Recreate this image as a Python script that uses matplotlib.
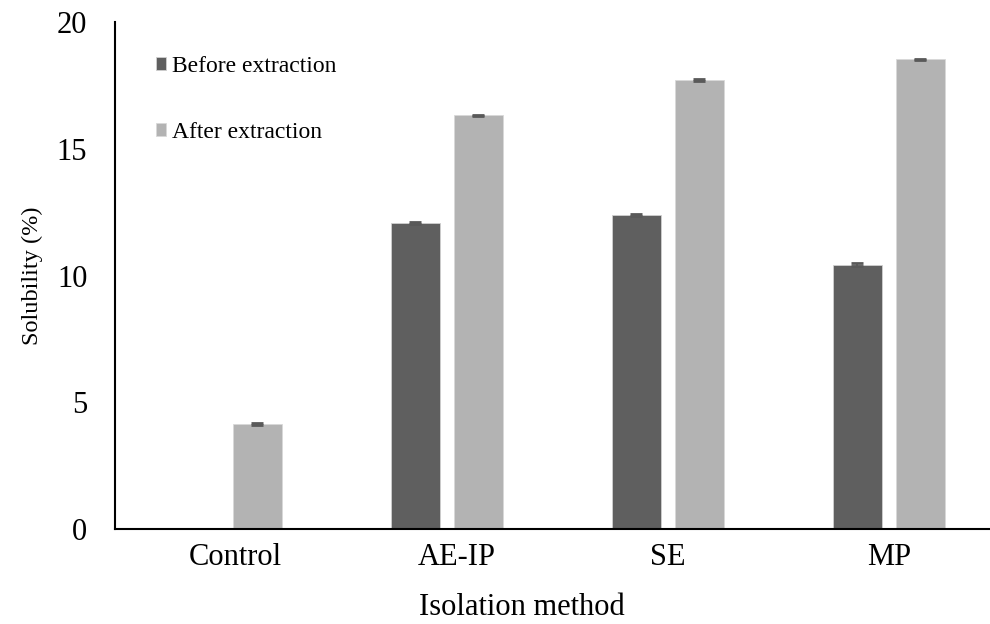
import numpy as np
import matplotlib.pyplot as plt
from matplotlib.transforms import ScaledTranslation

plt.rcParams["font.family"] = "serif"
plt.rcParams["font.serif"] = ["Liberation Serif", "Times New Roman", "DejaVu Serif"]

methods = ["Control", "AE-IP", "SE", "MP"]
before = [np.nan, 12.07, 12.37, 10.43]
after = [4.14, 16.32, 17.71, 18.53]
before_err = [0.0, 0.04, 0.04, 0.06]
after_err = [0.04, 0.03, 0.03, 0.03]

fig = plt.figure(figsize=(9.9, 6.24), dpi=100)
ax = fig.add_axes([0.1162, 0.1522, 0.8934, 0.8125])

x = np.arange(len(methods))
w = 0.222
off = 0.1425

ax.bar(x - off, before, width=w, color="#5f5f5f", edgecolor="#d0d0d0",
       linewidth=0.6, label="Before extraction")
ax.bar(x + off, after, width=w, color="#b3b3b3", edgecolor="#d9d9d9",
       linewidth=0.6, label="After extraction")

ax.errorbar(x - off, before, yerr=before_err, fmt="none", ecolor="#595959",
            elinewidth=1.2, capsize=4.5, capthick=2)
ax.errorbar(x + off, after, yerr=after_err, fmt="none", ecolor="#595959",
            elinewidth=1.2, capsize=4.5, capthick=2)

ax.set_xlim(-0.5, 3.5)
ax.set_ylim(0, 20)
ax.set_yticks([0, 5, 10, 15, 20])
ax.set_xticks(x)
ax.set_xticklabels(methods)
ax.tick_params(axis="both", length=0, labelsize=22)
ax.tick_params(axis="y", pad=20)
ax.tick_params(axis="x", pad=10)

# first two category labels sit a bit right of their bars
for lab, dx in zip(ax.get_xticklabels(), [10, 10, 0, 0]):
    lab.set_transform(lab.get_transform() + ScaledTranslation(dx / 100, 0, fig.dpi_scale_trans))

for s in ["top", "right"]:
    ax.spines[s].set_visible(False)
for s in ["left", "bottom"]:
    ax.spines[s].set_linewidth(1.5)

ax.set_xlabel("Isolation method", fontsize=22)
ax.xaxis.set_label_coords(0.46, -0.126)
ax.set_ylabel("Solubility (%)", fontsize=17.5, labelpad=10)

leg = ax.legend(loc="upper left", bbox_to_anchor=(0.022, 0.975), frameon=False,
                fontsize=17, handlelength=0.45, handleheight=0.45,
                handletextpad=0.25, labelspacing=1.9)

fig.savefig("out.png", dpi=100)
